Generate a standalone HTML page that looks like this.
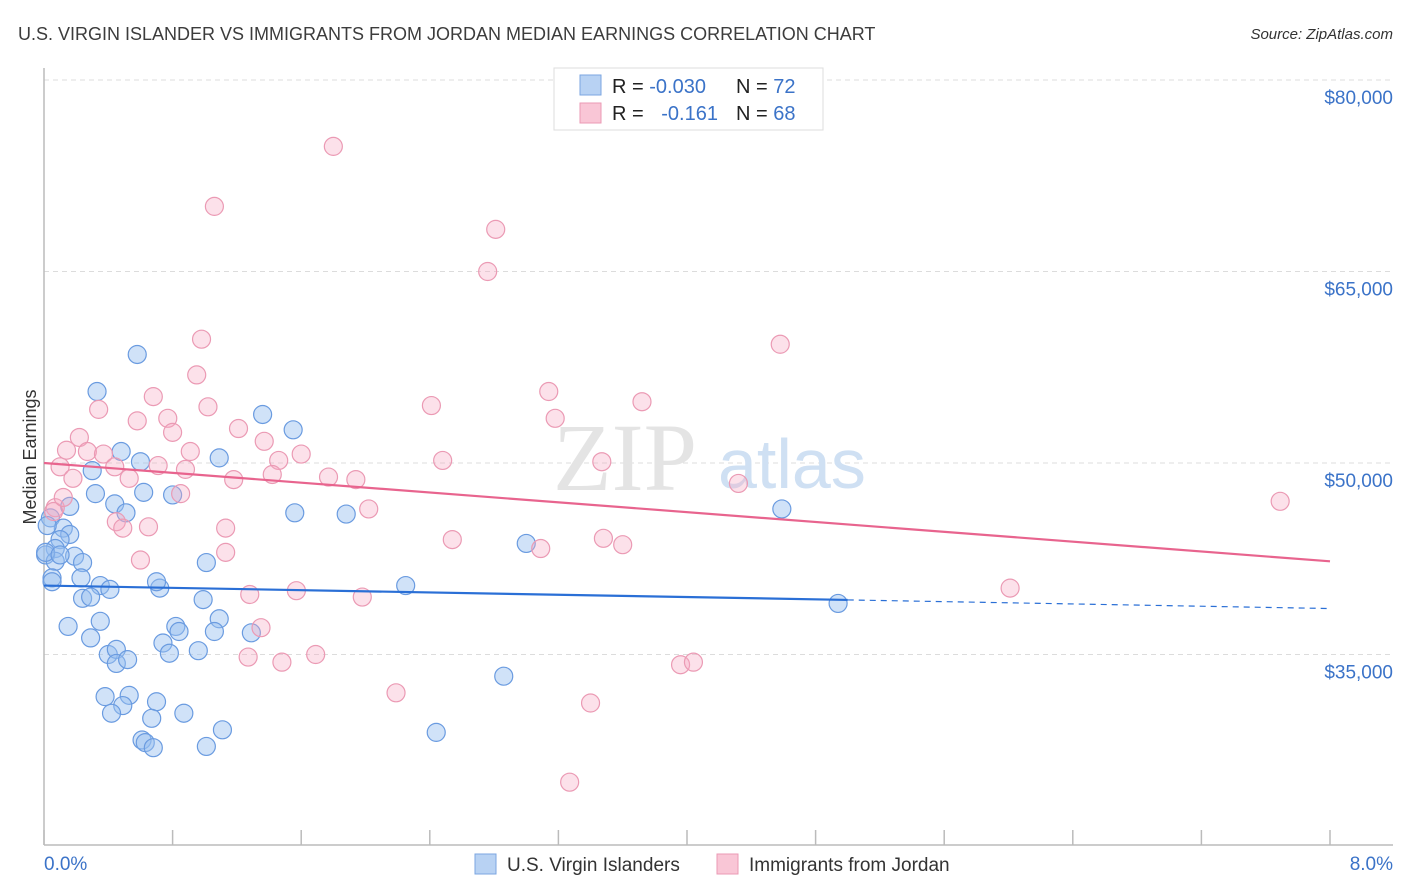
<!DOCTYPE html>
<html><head><meta charset="utf-8">
<style>
body{margin:0;background:#fff;font-family:"Liberation Sans",sans-serif;}
#wrap{position:relative;width:1406px;height:892px;overflow:hidden;}
</style></head>
<body>
<div id="wrap">
<svg id="chart" width="1406" height="892" xmlns="http://www.w3.org/2000/svg">
<text x="18" y="40" font-size="18" fill="#3c3c3c">U.S. VIRGIN ISLANDER VS IMMIGRANTS FROM JORDAN MEDIAN EARNINGS CORRELATION CHART</text>
<text x="1393" y="39" font-size="15" font-style="italic" fill="#333" text-anchor="end">Source: ZipAtlas.com</text>
<text x="36" y="457" font-size="18" fill="#333" text-anchor="middle" transform="rotate(-90 36 457)">Median Earnings</text>
<g id="grid"></g>
<g>
<text x="553" y="490" font-size="96" font-family="Liberation Serif,serif" fill="#e4e4e4">ZIP</text>
<text x="718" y="488" font-size="70" fill="#cfe0f3">atlas</text>
</g>
<line x1="44" y1="68" x2="44" y2="845" stroke="#bbb" stroke-width="1.5"/>
<line x1="44" y1="845" x2="1393" y2="845" stroke="#bbb" stroke-width="1.5"/>
<g id="ticks"></g>
<g id="pts"></g>
<g id="trend"></g>
<text x="44" y="870" font-size="19" fill="#3b73c8">0.0%</text>
<text x="1393" y="870" font-size="19" fill="#3b73c8" text-anchor="end">8.0%</text>
<g>
<rect x="554" y="68" width="269" height="62" fill="#fff" stroke="#ddd"/>
<rect x="580" y="75" width="21" height="20" fill="#b8d2f3" stroke="#7ba6e0"/>
<rect x="580" y="103" width="21" height="20" fill="#f9c6d6" stroke="#eb9ab4"/>
<text x="612" y="93" font-size="20" fill="#222">R = <tspan fill="#3b73c8">-0.030</tspan></text>
<text x="736" y="93" font-size="20" fill="#222">N = <tspan fill="#3b73c8">72</tspan></text>
<text x="612" y="120" font-size="20" fill="#222">R = <tspan fill="#3b73c8" dx="12">-0.161</tspan></text>
<text x="736" y="120" font-size="20" fill="#222">N = <tspan fill="#3b73c8">68</tspan></text>
</g>
<g>
<rect x="475" y="854" width="21" height="20" fill="#b8d2f3" stroke="#7ba6e0"/>
<text x="507" y="871" font-size="19" fill="#333">U.S. Virgin Islanders</text>
<rect x="717" y="854" width="21" height="20" fill="#f9c6d6" stroke="#eb9ab4"/>
<text x="749" y="871" font-size="19" fill="#333">Immigrants from Jordan</text>
</g>
</svg>
</div>
<script>
const yTicks=[80000,65000,50000,35000];
const yTickLabels=["$80,000","$65,000","$50,000","$35,000"];
const xTicks=[0,0.8,1.6,2.4,3.2,4.0,4.8,5.6,6.4,7.2,8.0];
const blueX=[0.58,0.33,1.36,1.55,0.48,1.09,0.60,0.30,0.32,0.62,0.80,0.44,0.51,0.16,1.56,1.88,4.59,0.04,0.12,0.16,0.10,0.07,0.01,0.19,0.24,0.07,1.01,0.05,0.23,0.35,0.41,0.72,0.70,2.25,0.24,0.29,3.00,4.94,0.99,1.09,0.15,0.35,0.82,0.84,1.06,1.29,0.29,0.74,0.78,0.96,0.40,0.45,0.45,0.52,2.86,0.38,0.53,0.49,0.70,0.42,0.67,0.87,1.11,2.44,1.01,0.61,0.63,0.68,0.01,0.10,0.02,0.05];
const blueY=[58.5,55.6,53.8,52.6,50.9,50.4,50.1,49.4,47.6,47.7,47.5,46.8,46.1,46.6,46.1,46.0,46.4,45.7,44.9,44.4,44.0,43.3,42.8,42.7,42.2,42.3,42.2,41.0,41.0,40.4,40.1,40.2,40.7,40.4,39.4,39.5,43.7,39.0,39.3,37.8,37.2,37.6,37.2,36.8,36.8,36.7,36.3,35.9,35.1,35.3,35.0,35.4,34.3,34.6,33.3,31.7,31.8,31.0,31.3,30.4,30.0,30.4,29.1,28.9,27.8,28.3,28.1,27.7,43.0,42.8,45.1,40.7];
const pinkX=[1.80,1.06,2.81,2.76,4.58,0.98,0.95,0.68,1.02,0.34,0.58,0.77,2.41,3.14,3.72,3.18,1.21,0.80,1.37,0.22,0.14,0.27,0.37,0.91,1.60,0.10,0.44,0.71,1.46,0.88,1.42,1.77,1.94,1.18,0.53,0.18,2.48,3.47,4.32,7.69,0.85,0.07,0.06,2.02,0.45,0.65,0.49,1.13,2.54,3.48,3.60,3.09,0.60,1.13,1.28,1.57,1.98,6.01,1.35,1.69,1.27,1.48,3.96,4.04,2.19,3.40,3.27,0.12];
const pinkY=[74.8,70.1,68.3,65.0,59.3,59.7,56.9,55.2,54.4,54.2,53.3,53.5,54.5,55.6,54.8,53.5,52.7,52.4,51.7,52.0,51.0,50.9,50.7,50.9,50.7,49.7,49.7,49.8,50.2,49.5,49.1,48.9,48.7,48.7,48.8,48.8,50.2,50.1,48.4,47.0,47.6,46.5,46.2,46.4,45.4,45.0,44.9,44.9,44.0,44.1,43.6,43.3,42.4,43.0,39.7,40.0,39.5,40.2,37.1,35.0,34.8,34.4,34.2,34.4,32.0,31.2,25.0,47.3];
const blueTrend=[40400,38600];
const pinkTrend=[50000,42300];
const blueSolidEnd=5.0;

const NS="http://www.w3.org/2000/svg";
function xs(v){return 44+v/8*1286;}
function ys(v){return 80+(80000-v)/15000*191.5;}
function mk(tag,attrs,parent){const e=document.createElementNS(NS,tag);for(const k in attrs)e.setAttribute(k,attrs[k]);parent.appendChild(e);return e;}
const grid=document.getElementById('grid');
yTicks.forEach((t,i)=>{
  const l=mk('line',{x1:44,x2:1393,y1:ys(t),y2:ys(t),stroke:'#dcdcdc','stroke-dasharray':'5,4'},grid);
  
  
  const tx=mk('text',{x:1393,y:ys(t)+24,'font-size':19,fill:'#3b73c8','text-anchor':'end'},grid);
  tx.textContent=yTickLabels[i];
  
  
});
const ticks=document.getElementById('ticks');
xTicks.forEach(t=>{
  const l=mk('line',{x1:xs(t),x2:xs(t),y1:830,y2:845,stroke:'#bbb','stroke-width':1.5},ticks);
  
  
});
const pts=document.getElementById('pts');
blueX.forEach((x,i)=>{
  const c=mk('circle',{cx:xs(x),cy:ys(blueY[i]*1000),r:9,fill:'rgba(150,190,240,0.45)',stroke:'#6a9be0','stroke-width':1.2},pts);
  
  
});
pinkX.forEach((x,i)=>{
  const c=mk('circle',{cx:xs(x),cy:ys(pinkY[i]*1000),r:9,fill:'rgba(245,170,195,0.35)',stroke:'#eb9ab4','stroke-width':1.2},pts);
  
  
});
const tr=document.getElementById('trend');
function tv(a,x){return a[0]+(a[1]-a[0])*x/8;}
let l1=mk('line',{x1:xs(0),y1:ys(tv(blueTrend,0)),x2:xs(blueSolidEnd),y2:ys(tv(blueTrend,blueSolidEnd)),stroke:'#2a6fd6','stroke-width':2.2},tr);


let l2=mk('line',{x1:xs(blueSolidEnd),y1:ys(tv(blueTrend,blueSolidEnd)),x2:xs(8),y2:ys(tv(blueTrend,8)),stroke:'#2a6fd6','stroke-width':1.2,'stroke-dasharray':'6,5'},tr);


let l3=mk('line',{x1:xs(0),y1:ys(tv(pinkTrend,0)),x2:xs(8),y2:ys(tv(pinkTrend,8)),stroke:'#e8648e','stroke-width':2.2},tr);


</script>
</body></html>
